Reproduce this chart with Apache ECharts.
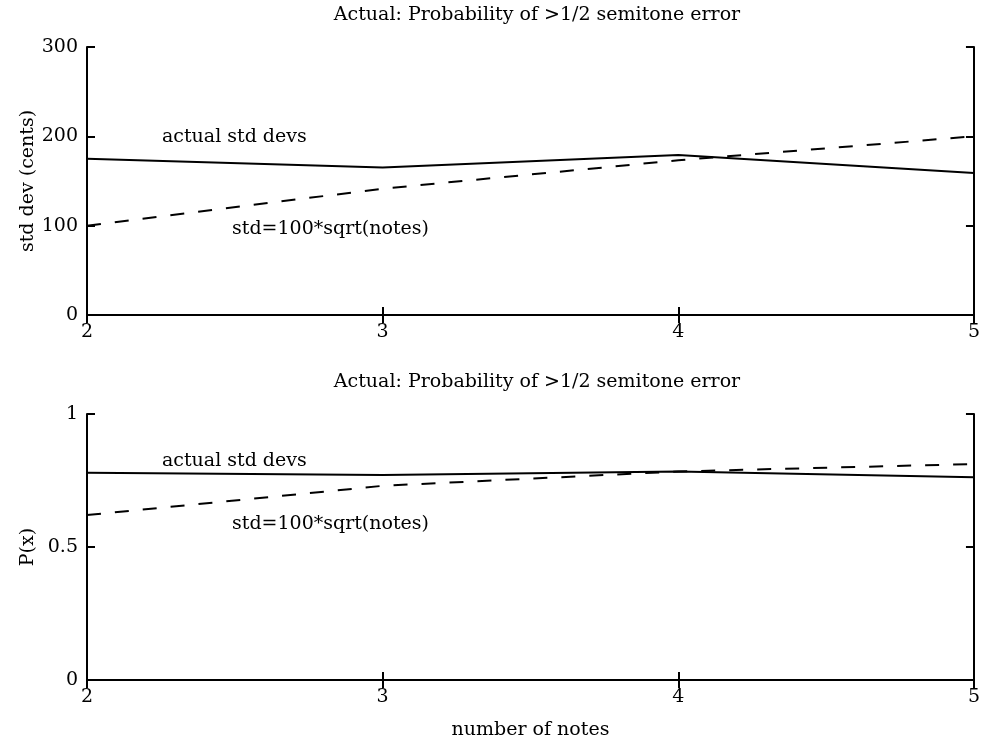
<!DOCTYPE html>
<html><head><meta charset="utf-8">
<script src="https://cdn.jsdelivr.net/npm/echarts@6/dist/echarts.min.js"></script>
<style>html,body{margin:0;padding:0;background:#fff}#c{width:983px;height:743px}</style>
</head><body><div id="c"></div>
<script>
const notes = [2, 3, 4, 5];
const actualStd = [175, 165, 179, 159];
const modelStd = [100, 141.4, 173.2, 200];
const actualP = [0.779, 0.771, 0.784, 0.762];
const modelP = [0.620, 0.730, 0.784, 0.812];
const titleText = 'Actual: Probability of >1/2 semitone error';
const FONT = 'DejaVu Serif';
const FS = 19;

const chart = echarts.init(document.getElementById('c'), null, {renderer: 'canvas'});
const grids = [
  {left: 87, right: 5, top: 47, height: 268},
  {left: 87, right: 5, top: 414, height: 266}
];
function xAxes(gi, showName) {
  return [
    {gridIndex: gi, type: 'value', min: 2, max: 5, interval: 1, position: 'bottom',
     axisLine: {lineStyle: {color: '#000', width: 2}},
     axisTick: {inside: true, length: 8, lineStyle: {color: '#000', width: 2}},
     axisLabel: {color: '#000', fontFamily: FONT, fontSize: FS, margin: 8},
     splitLine: {show: false},
     name: showName ? 'number of notes' : '', nameLocation: 'middle', nameGap: 41,
     nameMoveOverlap: false,
     nameTextStyle: {color: '#000', fontFamily: FONT, fontSize: FS}},
    {gridIndex: gi, type: 'value', min: 2, max: 5, interval: 1, position: 'top',
     axisLine: {lineStyle: {color: '#000', width: 2}},
     axisTick: {inside: true, length: 8, lineStyle: {color: '#000', width: 2}},
     axisLabel: {show: false}, splitLine: {show: false}}
  ];
}
function yAxes(gi, max, interval, name) {
  return [
    {gridIndex: gi, type: 'value', min: 0, max: max, interval: interval, position: 'left',
     axisLine: {show: true, lineStyle: {color: '#000', width: 2}},
     axisTick: {show: true, inside: true, length: 8, lineStyle: {color: '#000', width: 2}},
     axisLabel: {color: '#000', fontFamily: FONT, fontSize: FS, margin: 9},
     splitLine: {show: false},
     name: name, nameLocation: 'middle', nameGap: 49, nameRotate: 90,
     nameMoveOverlap: false,
     nameTextStyle: {color: '#000', fontFamily: FONT, fontSize: FS}},
    {gridIndex: gi, type: 'value', min: 0, max: max, interval: interval, position: 'right',
     axisLine: {show: true, lineStyle: {color: '#000', width: 2}},
     axisTick: {show: true, inside: true, length: 8, lineStyle: {color: '#000', width: 2}},
     axisLabel: {show: false}, splitLine: {show: false}}
  ];
}
function pairs(xs, ys) { return xs.map((x, i) => [x, ys[i]]); }
function line(xi, yi, data, dashed) {
  return {type: 'line', xAxisIndex: xi, yAxisIndex: yi, data: data, symbol: 'none',
    animation: false, silent: true,
    lineStyle: {color: '#000', width: 2, type: dashed ? [14, 14] : 'solid'}};
}
const txt = (x, y, s) => ({type: 'text', left: x, top: y,
  style: {text: s, fill: '#000', font: FS + 'px "' + FONT + '"'}});

chart.setOption({
  animation: false,
  backgroundColor: '#fff',
  title: [
    {text: titleText, left: 532, textAlign: 'center', top: 1,
     textStyle: {color: '#000', fontFamily: FONT, fontSize: FS, fontWeight: 'normal'}},
    {text: titleText, left: 532, textAlign: 'center', top: 368,
     textStyle: {color: '#000', fontFamily: FONT, fontSize: FS, fontWeight: 'normal'}}
  ],
  grid: grids,
  xAxis: [...xAxes(0, false), ...xAxes(1, true)],
  yAxis: [...yAxes(0, 300, 100, 'std dev (cents)'), ...yAxes(1, 1, 0.5, 'P(x)')],
  series: [
    line(0, 0, pairs(notes, actualStd), false),
    line(0, 0, pairs(notes, modelStd), true),
    line(2, 2, pairs(notes, actualP), false),
    line(2, 2, pairs(notes, modelP), true)
  ],
  graphic: [
    txt(162, 128, 'actual std devs'),
    txt(232, 220, 'std=100*sqrt(notes)'),
    txt(162, 452, 'actual std devs'),
    txt(232, 515, 'std=100*sqrt(notes)')
  ]
});
</script></body></html>
